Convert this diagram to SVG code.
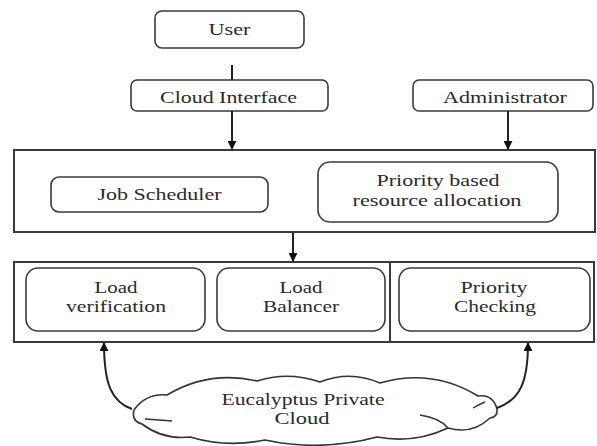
<svg xmlns="http://www.w3.org/2000/svg" width="597" height="446" viewBox="0 0 597 446">
<style>
.bg{fill:#fff}
.rb{fill:#fff;stroke:#3a3a3a;stroke-width:1.6}
.frame{fill:#fff;stroke:#3a3a3a;stroke-width:2}
.t{font-family:"Liberation Serif","DejaVu Serif","Times New Roman",serif;font-size:17px;fill:#2a2a2a;text-anchor:middle}
.s{font-size:16px}
.c{fill:none;stroke:#222;stroke-width:2}
.cl{fill:#fff;stroke:#333;stroke-width:1.6;stroke-linejoin:round}
.ci{fill:none;stroke:#333;stroke-width:1.4}
</style>
<defs>
<marker id="ah" viewBox="0 0 10 10" refX="9" refY="5" markerWidth="4.5" markerHeight="4.5" orient="auto" markerUnits="strokeWidth">
<path d="M0,0 L10,5 L0,10 z" fill="#111"/>
</marker>
</defs>
<rect class="bg" x="0" y="0" width="597" height="446"/>

<g id="user">
<rect class="rb" x="155" y="11" width="149" height="37" rx="7"/>
<text class="t" x="229.5" y="35" textLength="42" lengthAdjust="spacingAndGlyphs">User</text>
</g>
<g id="cloud-interface">
<rect class="rb" x="131" y="80" width="197" height="31" rx="6"/>
<text class="t" x="228.5" y="103" textLength="137" lengthAdjust="spacingAndGlyphs">Cloud Interface</text>
</g>
<g id="administrator">
<rect class="rb" x="413" y="80" width="180" height="31" rx="6"/>
<text class="t" x="505" y="103" textLength="124" lengthAdjust="spacingAndGlyphs">Administrator</text>
</g>

<g id="scheduling-layer">
<rect class="frame" x="14" y="150" width="581" height="82"/>
<g id="job-scheduler">
<rect class="rb" x="51" y="177" width="217" height="35" rx="8"/>
<text class="t" x="159.5" y="200" textLength="124" lengthAdjust="spacingAndGlyphs">Job Scheduler</text>
</g>
<g id="priority-allocation">
<rect class="rb" x="318" y="162" width="240" height="60" rx="12"/>
<text class="t" x="438" y="186" textLength="123" lengthAdjust="spacingAndGlyphs">Priority based</text>
<text class="t" x="437" y="206" textLength="169" lengthAdjust="spacingAndGlyphs">resource allocation</text>
</g>
</g>

<g id="balancing-layer">
<rect class="frame" x="14" y="262" width="580" height="80"/>
<line x1="390" y1="262" x2="390" y2="342" stroke="#3a3a3a" stroke-width="2"/>
<g id="load-verification">
<rect class="rb" x="26" y="268" width="179" height="63" rx="12"/>
<text class="t" x="116" y="293" textLength="43" lengthAdjust="spacingAndGlyphs">Load</text>
<text class="t" x="116" y="312" textLength="100" lengthAdjust="spacingAndGlyphs">verification</text>
</g>
<g id="load-balancer">
<rect class="rb" x="217" y="268" width="168" height="63" rx="12"/>
<text class="t" x="301" y="293" textLength="43" lengthAdjust="spacingAndGlyphs">Load</text>
<text class="t" x="301" y="312" textLength="76" lengthAdjust="spacingAndGlyphs">Balancer</text>
</g>
<g id="priority-checking">
<rect class="rb" x="399" y="268" width="191" height="63" rx="12"/>
<text class="t" x="494" y="293" textLength="67" lengthAdjust="spacingAndGlyphs">Priority</text>
<text class="t" x="495" y="312" textLength="82" lengthAdjust="spacingAndGlyphs">Checking</text>
</g>
</g>

<g id="eucalyptus-cloud">
<path class="cl" d="M134 410 Q146 393 167 395 Q209 370 257 381 Q288 371 320 382 Q350 370 380 383 Q432 368 478 396 Q493 394 497 409 Q498 417 490 418 Q472 435 448 428 Q414 444 377 437 Q321 452 265 440 Q227 448 190 437 Q163 440 142 424 Q131 421 134 410 Z"/>
<path class="ci" d="M145 419 Q160 420 172 421"/>
<path class="ci" d="M420 415 Q440 418 448 428"/>
<path class="ci" d="M473 408 Q480 404 485 402"/>
<text class="t s" x="303" y="405" textLength="163" lengthAdjust="spacingAndGlyphs">Eucalyptus Private</text>
<text class="t s" x="302" y="424" textLength="55" lengthAdjust="spacingAndGlyphs">Cloud</text>
</g>

<g id="connectors">
<line class="c" x1="232" y1="65" x2="232" y2="80"/>
<line class="c" x1="232" y1="111" x2="232" y2="149" marker-end="url(#ah)"/>
<line class="c" x1="508" y1="111" x2="508" y2="149" marker-end="url(#ah)"/>
<line class="c" x1="293" y1="233" x2="293" y2="261" marker-end="url(#ah)"/>
<path class="c" d="M132 409 C112 402 104 385 104 343" marker-end="url(#ah)"/>
<path class="c" d="M497 408 C520 400 528 382 528 343" marker-end="url(#ah)"/>
</g>
</svg>
